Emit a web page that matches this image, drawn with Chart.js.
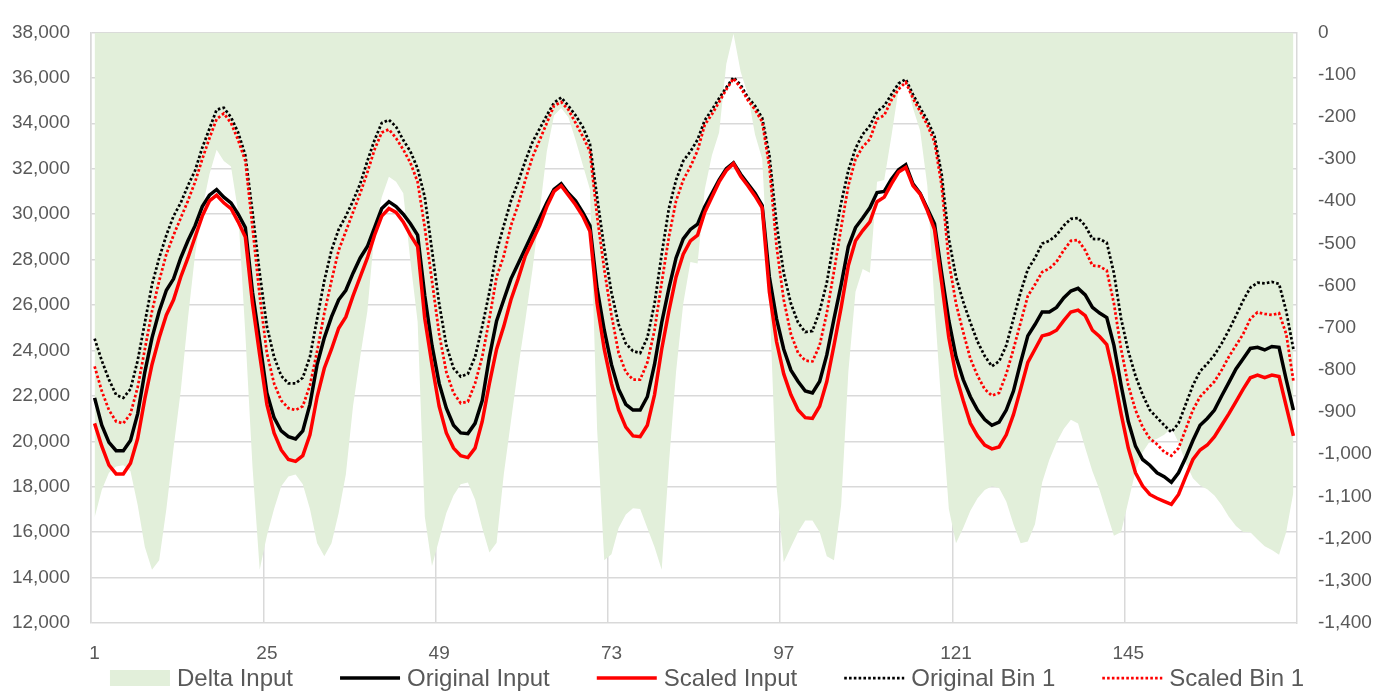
<!DOCTYPE html>
<html>
<head>
<meta charset="utf-8">
<script src="https://cdn.jsdelivr.net/npm/chart.js@4"></script>
<style>
  html, body { margin: 0; padding: 0; background: #ffffff; }
  #wrap { width: 1376px; height: 692px; }
</style>
</head>
<body>
<div id="wrap"><canvas id="c" width="1376" height="692"></canvas></div>
<script>
const hours = [
  1,2,3,4,5,6,7,8,9,10,11,12,13,14,15,16,17,18,19,20,21,22,23,24,
  25,26,27,28,29,30,31,32,33,34,35,36,37,38,39,40,41,42,43,44,45,46,47,48,
  49,50,51,52,53,54,55,56,57,58,59,60,61,62,63,64,65,66,67,68,69,70,71,72,
  73,74,75,76,77,78,79,80,81,82,83,84,85,86,87,88,89,90,91,92,93,94,95,96,
  97,98,99,100,101,102,103,104,105,106,107,108,109,110,111,112,113,114,115,116,117,118,119,120,
  121,122,123,124,125,126,127,128,129,130,131,132,133,134,135,136,137,138,139,140,141,142,143,144,
  145,146,147,148,149,150,151,152,153,154,155,156,157,158,159,160,161,162,163,164,165,166,167,168
];
const xTickLabels = ['1','25','49','73','97','121','145'];

const deltaInput = [
  -1150,-1085,-1044,-1029,-1026,-1040,-1120,-1220,-1274,-1251,-1130,-985,-850,-679,-526,-418,-336,-278,-305,-318,-426,-715,-1030,-1274,
  -1193,-1130,-1076,-1053,-1048,-1071,-1130,-1211,-1242,-1211,-1139,-1048,-886,-769,-661,-472,-391,-342,-354,-381,-543,-686,-1148,-1265,
  -1202,-1139,-1098,-1071,-1067,-1107,-1175,-1233,-1210,-1048,-922,-796,-683,-562,-426,-282,-197,-179,-201,-255,-314,-372,-940,-1251,
  -1237,-1175,-1143,-1128,-1130,-1175,-1220,-1274,-1024,-805,-643,-544,-548,-372,-291,-237,-75,-3,-93,-147,-242,-300,-625,-1076,
  -1256,-1220,-1184,-1157,-1157,-1184,-1242,-1251,-1120,-805,-615,-561,-570,-354,-350,-246,-135,-111,-179,-233,-363,-643,-895,-1130,
  -1211,-1175,-1134,-1104,-1085,-1076,-1080,-1112,-1166,-1211,-1207,-1166,-1067,-1013,-972,-940,-918,-927,-985,-1040,-1085,-1139,-1193,-1184,
  -1112,-1040,-995,-969,-963,-954,-938,-972,-1021,-1057,-1074,-1083,-1098,-1120,-1148,-1170,-1184,-1185,-1202,-1218,-1227,-1238,-1184,-1090
];

const originalInput = [
  21910,20705,19950,19583,19583,20035,21207,23048,24555,25727,26648,27150,28070,28824,29493,30330,30833,31084,30750,30497,29995,29410,26564,24388,
  22128,21040,20454,20203,20100,20454,21626,23383,24555,25476,26229,26648,27401,28070,28573,29410,30246,30548,30330,29995,29577,29074,26396,24220,
  22546,21458,20705,20370,20337,20789,21793,23718,25300,26229,27150,27820,28489,29159,29828,30497,31084,31335,30916,30581,30079,29493,26731,24890,
  23383,22295,21626,21375,21375,21960,23383,25225,26731,28070,28907,29326,29560,30330,30916,31502,32004,32255,31753,31335,30916,30380,27234,25392,
  24053,23132,22630,22211,22128,22630,23802,25392,26899,28573,29410,29828,30280,30950,31000,31536,31950,32172,31335,30916,30246,29577,27401,25309,
  23718,22714,21960,21375,20956,20705,20839,21375,22211,23467,24639,25141,25694,25694,25894,26313,26614,26731,26447,25894,25643,25443,24220,22463,
  20872,19784,19198,18947,18612,18445,18194,18612,19282,20035,20705,21006,21375,21994,22580,23183,23635,24087,24137,24020,24171,24137,22714,21375
];

const scaledInput = [
  20789,19784,18947,18562,18562,19031,20119,21877,23383,24555,25559,26229,27234,28070,28991,29912,30581,30833,30497,30246,29660,28991,26062,23802,
  21626,20370,19617,19198,19115,19366,20286,21960,23216,24053,24974,25476,26397,27234,28070,29074,29912,30246,30079,29660,29074,28573,25392,23383,
  21542,20370,19700,19366,19282,19700,20872,22546,24053,25058,26229,27150,28154,28824,29493,30330,31000,31251,30833,30414,29912,29242,26062,24053,
  22546,21375,20621,20236,20203,20705,22044,24053,25727,27234,28238,28824,29075,30079,30749,31418,31921,32222,31670,31251,30800,30280,26564,24388,
  22965,22044,21375,21040,21006,21542,22630,24220,25894,27736,28824,29276,29660,30547,30749,31335,31850,32054,31251,30883,30163,29326,26982,24555,
  22881,21793,20789,20236,19834,19667,19751,20286,21174,22295,23467,24053,24639,24722,24890,25309,25693,25777,25526,24890,24610,24254,22881,21207,
  19700,18612,18026,17658,17491,17357,17223,17658,18445,19198,19617,19834,20203,20705,21207,21743,22295,22797,22915,22797,22915,22848,21542,20236
];

const originalBin1 = [
  24522,23551,22714,22044,21910,22295,23551,25225,26899,28070,29074,29912,30497,31251,31921,32925,33762,34599,34683,34265,33595,32591,30079,27401,
  25057,23718,22881,22546,22546,22797,23718,25392,27066,28405,29326,29912,30581,31335,32339,33260,34014,34147,33847,33260,32758,32004,30749,28405,
  26062,24220,23216,22848,22965,23718,25057,26564,28360,29493,30581,31418,32339,33176,33762,34348,34900,35135,34767,34348,33846,33093,30749,28489,
  26564,25141,24304,23969,23885,24555,26062,28238,30246,31502,32339,32758,33280,34130,34599,35102,35570,36022,35687,35135,34767,34231,32591,29577,
  27401,26062,25225,24806,24856,25727,26982,28824,30497,31921,32892,33511,33896,34515,34767,35269,35750,35938,35269,34683,34131,33427,31753,28907,
  27234,26146,25225,24388,23751,23300,23517,24220,25392,26564,27568,28070,28706,28824,29074,29493,29795,29828,29493,28907,28900,28740,27401,25392,
  23969,22881,22044,21374,21040,20705,20403,20789,21626,22463,23082,23417,23802,24304,24890,25526,26196,26765,26982,26949,27016,26932,25727,24053
];

const scaledBin1 = [
  23300,22212,21375,20872,20789,21207,22379,24053,25727,27066,28238,29074,29828,30581,31418,32423,33343,34181,34432,34014,33260,32339,29410,26397,
  23886,22546,21793,21458,21375,21542,22463,23969,25643,27066,28405,29242,30079,30916,31837,32841,33595,33729,33343,32841,32255,31418,29410,27066,
  24722,23048,22128,21676,21743,22546,23718,25392,27234,28154,29493,30414,31502,32507,33260,34014,34767,34934,34599,34014,33427,32758,29912,27568,
  25559,23886,23048,22714,22714,23467,24890,26982,28991,30581,31502,32088,32800,33929,34398,34934,35486,35972,35570,35018,34599,34064,32088,28573,
  26229,24722,23886,23551,23517,24220,25643,27485,29410,31251,32423,32959,33294,34181,34348,35018,35500,35804,35102,34515,33929,33176,31251,27903,
  26062,24806,23635,22881,22295,22011,22128,22965,24053,25225,26397,26899,27451,27602,27903,28405,28824,28857,28405,27736,27700,27518,26062,24053,
  22463,21375,20621,20119,19868,19533,19366,19700,20537,21375,21960,22295,22630,23132,23718,24220,24722,25392,25677,25610,25560,25643,24722,22650
];

const leftMin = 12000, leftMax = 38000, leftStep = 2000;
const rightMin = -1400, rightMax = 0, rightStep = 100;

const FONT = "'Liberation Sans', Arial, sans-serif";
Chart.defaults.font.family = FONT;
Chart.defaults.color = '#595959';

const gridGrey = '#d9d9d9';
const fmt = v => Number(v).toLocaleString('en-US');

// Legend drawn in one row below the x axis, in dataset order
const bottomLegend = {
  id: 'bottomLegend',
  afterDraw(chart) {
    const ctx = chart.ctx;
    const sample = 60, textGap = 7, itemGap = 47, centerX = 707, y = 678;
    ctx.save();
    ctx.font = '24px ' + FONT;
    ctx.textBaseline = 'middle';
    ctx.textAlign = 'left';
    const items = chart.data.datasets.map(ds => ({ ds, w: sample + textGap + ctx.measureText(ds.label).width }));
    const total = items.reduce((s, it) => s + it.w, 0) + itemGap * (items.length - 1);
    let x = centerX - total / 2;
    items.forEach(({ ds, w }) => {
      if (ds.fill) {
        ctx.fillStyle = ds.backgroundColor;
        ctx.fillRect(x, y - 8, sample, 16);
      } else {
        ctx.beginPath();
        ctx.strokeStyle = ds.borderColor;
        ctx.lineWidth = ds.borderWidth;
        ctx.setLineDash(ds.borderDash || []);
        ctx.moveTo(x, y);
        ctx.lineTo(x + sample, y);
        ctx.stroke();
        ctx.setLineDash([]);
      }
      ctx.fillStyle = '#595959';
      ctx.fillText(ds.label, x + sample + textGap, y + 1);
      x += w + itemGap;
    });
    ctx.restore();
  }
};

new Chart(document.getElementById('c'), {
  type: 'line',
  data: {
    labels: hours.map(String),
    datasets: [
      {
        label: 'Delta Input', data: deltaInput, yAxisID: 'y1',
        backgroundColor: '#E2EFDA', borderColor: '#E2EFDA', borderWidth: 0,
        fill: 'end', pointRadius: 0, tension: 0, order: 5
      },
      {
        label: 'Original Input', data: originalInput, yAxisID: 'y',
        borderColor: '#000000', backgroundColor: '#000000', borderWidth: 3.5,
        fill: false, pointRadius: 0, tension: 0, order: 4
      },
      {
        label: 'Scaled Input', data: scaledInput, yAxisID: 'y',
        borderColor: '#FF0000', backgroundColor: '#FF0000', borderWidth: 3.5,
        fill: false, pointRadius: 0, tension: 0, order: 3
      },
      {
        label: 'Original Bin 1', data: originalBin1, yAxisID: 'y',
        borderColor: '#000000', backgroundColor: '#000000', borderWidth: 2.75,
        borderDash: [2.6, 2.2], fill: false, pointRadius: 0, tension: 0, order: 2
      },
      {
        label: 'Scaled Bin 1', data: scaledBin1, yAxisID: 'y',
        borderColor: '#FF0000', backgroundColor: '#FF0000', borderWidth: 2.75,
        borderDash: [2.6, 2.2], fill: false, pointRadius: 0, tension: 0, order: 1
      }
    ]
  },
  plugins: [bottomLegend],
  options: {
    responsive: false,
    animation: false,
    events: [],
    layout: { padding: { top: 17, left: 0, right: 0, bottom: 27 } },
    plugins: {
      title: { display: false },
      tooltip: { enabled: false },
      legend: { display: false }
    },
    scales: {
      x: {
        type: 'category',
        offset: true,
        afterFit: s => { s.height = 42; },
        grid: {
          offset: true,
          drawTicks: false,
          lineWidth: 1.5,
          color: ctx => (ctx.index % 24 === 0 ? gridGrey : 'rgba(0,0,0,0)')
        },
        border: { display: false },
        ticks: {
          autoSkip: false, maxRotation: 0, minRotation: 0,
          padding: 19, color: '#595959', font: { size: 19 },
          callback: function (value) {
            const lab = this.getLabelForValue(value);
            return xTickLabels.includes(lab) ? lab : '';
          }
        }
      },
      y: {
        position: 'left',
        min: leftMin, max: leftMax,
        afterFit: s => { s.width = 91; },
        grid: { color: gridGrey, lineWidth: 1.5, drawTicks: false },
        border: { display: true, color: gridGrey, width: 1.5 },
        ticks: { stepSize: leftStep, padding: 21, color: '#595959', font: { size: 19 }, callback: v => fmt(v) }
      },
      y1: {
        position: 'right',
        min: rightMin, max: rightMax,
        afterFit: s => { s.width = 79; },
        grid: { drawOnChartArea: false, drawTicks: false },
        border: { display: true, color: gridGrey, width: 1.5 },
        ticks: { stepSize: rightStep, padding: 21, color: '#595959', font: { size: 19 }, callback: v => fmt(v) }
      }
    }
  }
});
</script>
</body>
</html>
